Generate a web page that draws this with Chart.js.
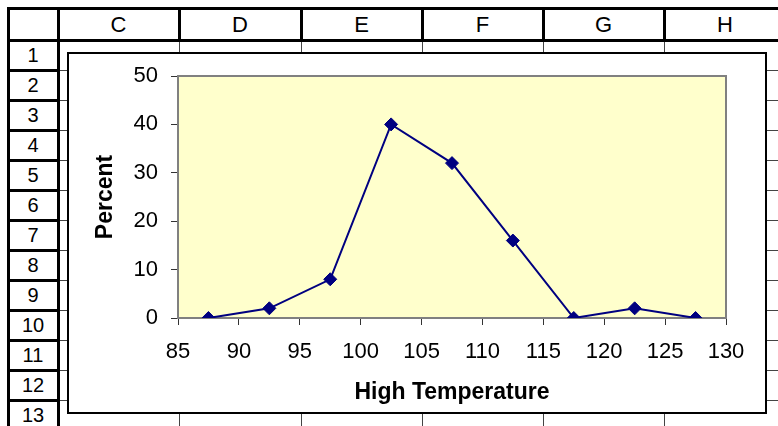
<!DOCTYPE html>
<html>
<head>
<meta charset="utf-8">
<script src="https://cdn.jsdelivr.net/npm/chart.js@4.4.1/dist/chart.umd.min.js"></script>
<style>
  html, body { margin: 0; padding: 0; background: #fff; }
  body { width: 778px; height: 426px; position: relative; overflow: hidden;
         font-family: "Liberation Sans", Arial, sans-serif; }
  .ln { position: absolute; background: #000; }
  .thin { background: #444; }
  .hdr { position: absolute; font-size: 20px; color: #000; text-align: center; }
  .hdr.col { font-size: 22px; }
  #chartBox { position: absolute; left: 67px; top: 52px; width: 696px; height: 358px;
              border: 2px solid #000; background: #fff; }
  #chartBox canvas { display: block; }
</style>
</head>
<body>
<div id="sheet"></div>
<div id="chartBox"><canvas id="tempChart" width="696" height="358"></canvas></div>
<script>
// frequency table: bin midpoints vs percent of days
const tempBins = [87.5, 92.5, 97.5, 102.5, 107.5, 112.5, 117.5, 122.5, 127.5];
const percentValues = [0, 2, 8, 40, 32, 16, 0, 2, 0];
const xRange = [85, 130];
const yRange = [0, 50];

// sheet headers
const colLetters = ['C', 'D', 'E', 'F', 'G', 'H'];
const rowNumbers = [1, 2, 3, 4, 5, 6, 7, 8, 9, 10, 11, 12, 13];

// ---- spreadsheet backdrop ----
const sheet = document.getElementById('sheet');
const colX = [58, 179, 301, 422, 543, 664, 786];
const rowH = 30, headTop = 8, headBottom = 40;

function line(x, y, w, h, cls) {
    const d = document.createElement('div');
    d.className = 'ln' + (cls ? ' ' + cls : '');
    Object.assign(d.style, { left: x + 'px', top: y + 'px', width: w + 'px', height: h + 'px' });
    sheet.appendChild(d);
}
function label(text, x, y, w, h, cls) {
    const d = document.createElement('div');
    d.className = 'hdr' + (cls ? ' ' + cls : '');
    d.textContent = text;
    Object.assign(d.style, { left: x + 'px', top: y + 'px', width: w + 'px', height: h + 'px', lineHeight: h + 'px' });
    sheet.appendChild(d);
}

// thin cell grid (mostly hidden behind the chart)
colX.slice(1, -1).forEach(x => line(x, headBottom, 1, 426, 'thin'));
rowNumbers.forEach((r, i) => line(colX[0], headBottom + rowH * (i + 1), 778, 1, 'thin'));

// column header row
line(7, headTop - 1, 778, 3);
line(7, headBottom - 1, 778, 3);
line(7, headTop - 1, 3, 426);
colX.slice(0, -1).forEach(x => line(x - 1, headTop, 3, headBottom - headTop));
colLetters.forEach((c, i) => label(c, colX[i], headTop + 1, colX[i + 1] - colX[i], headBottom - headTop - 1, 'col'));

// row header column
line(colX[0] - 1, headTop, 3, 426);
rowNumbers.forEach((r, i) => {
    const y = headBottom + rowH * i;
    line(7, y + rowH - 1, colX[0] - 7, 3);
    label(String(r), 9, y + 1, colX[0] - 10, rowH - 1);
});

// ---- chart ----
const plotFrame = {
    id: 'plotFrame',
    beforeDraw(chart) {
        const { ctx, chartArea: a } = chart;
        ctx.save();
        ctx.fillStyle = '#FFFFCC';
        ctx.fillRect(a.left, a.top, a.right - a.left, a.bottom - a.top);
        ctx.restore();
    },
    beforeDatasetsDraw(chart) {
        const { ctx, chartArea: a } = chart;
        ctx.save();
        ctx.strokeStyle = '#808080';
        ctx.lineWidth = 2;
        ctx.strokeRect(a.left, a.top, a.right - a.left, a.bottom - a.top);
        ctx.restore();
    }
};

const tickFont = { family: '"Liberation Sans", Arial, sans-serif', size: 22 };
const titleFont = { family: '"Liberation Sans", Arial, sans-serif', size: 23, weight: 'bold' };

new Chart(document.getElementById('tempChart'), {
    type: 'scatter',
    data: {
        datasets: [{
            data: tempBins.map((t, i) => ({ x: t, y: percentValues[i] })),
            showLine: true,
            borderColor: '#000080',
            borderWidth: 2,
            pointStyle: 'rectRot',
            pointRadius: 6.5,
            pointBackgroundColor: '#000080',
            pointBorderColor: '#000080',
            pointBorderWidth: 1
        }]
    },
    options: {
        responsive: false,
        animation: false,
        events: [],
        layout: { padding: { left: 0, right: 39, top: 22, bottom: 0 } },
        plugins: { legend: { display: false }, tooltip: { enabled: false } },
        scales: {
            x: {
                type: 'linear',
                min: xRange[0], max: xRange[1],
                afterFit: s => { s.height = 94; s.paddingLeft = 0; s.paddingRight = 0; },
                border: { display: false },
                grid: { drawOnChartArea: false, drawTicks: true, tickLength: 7, color: '#333' },
                ticks: { stepSize: 5, font: tickFont, color: '#000', padding: 14, maxRotation: 0, autoSkip: false },
                title: { display: true, text: 'High Temperature', font: titleFont, color: '#000',
                         padding: { top: 0, bottom: 6 } }
            },
            y: {
                min: yRange[0], max: yRange[1],
                afterFit: s => { s.width = 109; s.paddingTop = 0; s.paddingBottom = 0; },
                border: { display: false },
                grid: { drawOnChartArea: false, drawTicks: true, tickLength: 7, color: '#333' },
                ticks: { stepSize: 10, font: tickFont, color: '#000', padding: 13 },
                title: { display: true, text: 'Percent', font: titleFont, color: '#000',
                         padding: { top: 23, bottom: 0 } }
            }
        }
    },
    plugins: [plotFrame]
});
</script>
</body>
</html>
